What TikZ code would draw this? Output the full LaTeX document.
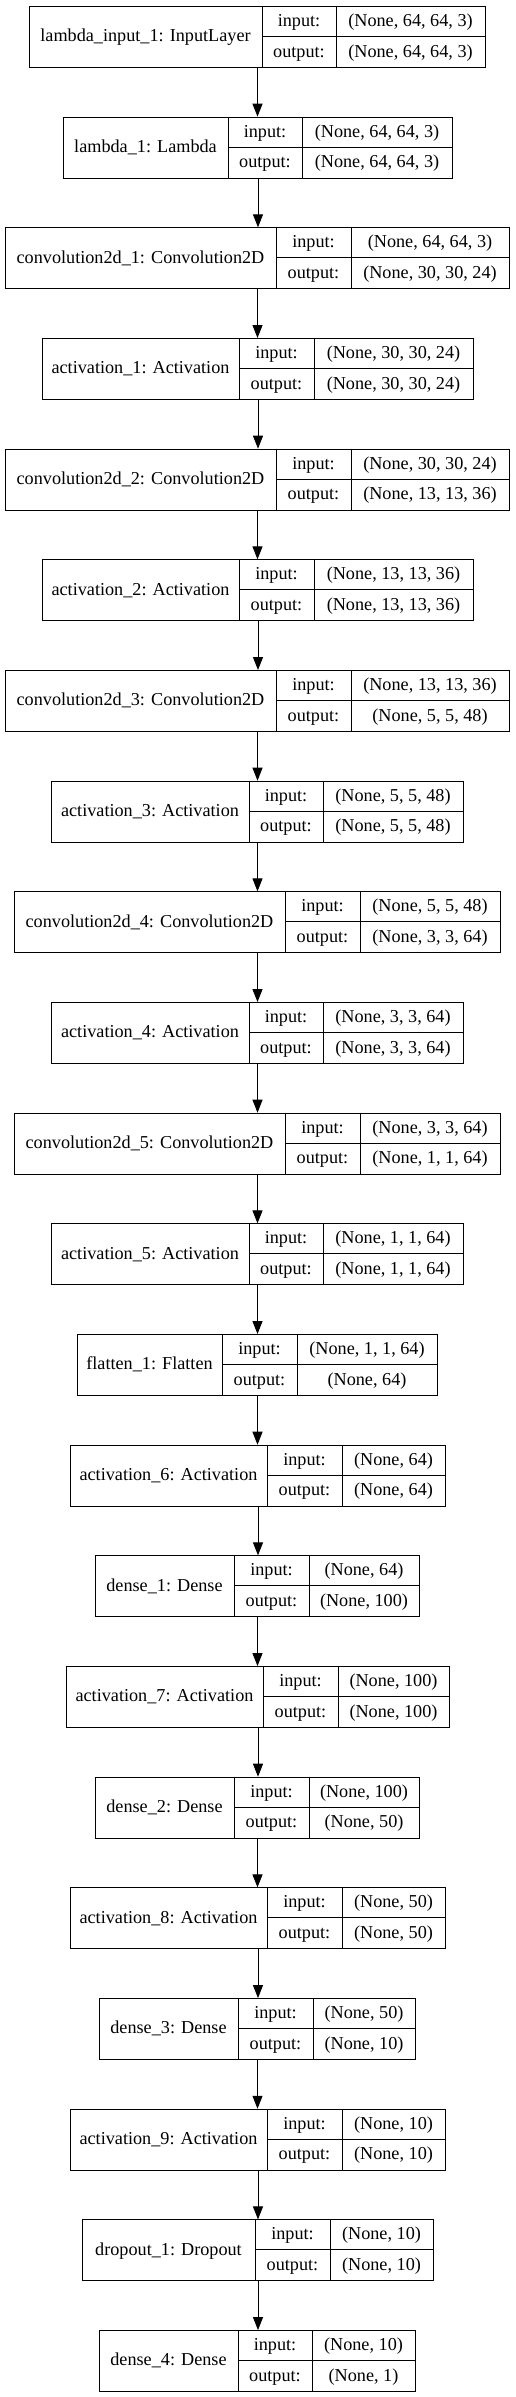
\documentclass[tikz,border=0pt]{standalone}
\usepackage{fontspec}
\setmainfont{Liberation Serif}
\usetikzlibrary{arrows.meta}
\tikzset{
  layerbox/.style={draw=black, line width=1pt, inner sep=0pt, minimum height=61pt, fill=white},
  cellline/.style={draw=black, line width=1pt},
  celltext/.style={inner sep=0pt, anchor=base, font=\fontsize{18.2}{20}\selectfont},
  flowarrow/.style={draw=black, line width=1pt, -{Triangle[length=13pt,width=10pt]}}
}
\newcommand{\klayer}[8]{%
  \pgfmathsetmacro\ktop{6+110.67*#1}%
  \pgfmathsetmacro\kbot{\ktop+61}%
  \pgfmathsetmacro\kmid{\ktop+30.5}%
  \pgfmathsetmacro\kw{#5-#2}%
  \node[layerbox, minimum width=\kw pt, anchor=north west] (L#1) at (#2,\ktop) {};
  \draw[cellline] (#3,\ktop) -- (#3,\kbot);
  \draw[cellline] (#4,\ktop) -- (#4,\kbot);
  \draw[cellline] (#3,\kmid) -- (#5,\kmid);
  \node[celltext] (L#1-name) at ({(#2+#3)/2},{\kmid+5.3}) {#6};
  \node[celltext] (L#1-inl) at ({(#3+#4)/2},{\ktop+15.25+5.3}) {input:};
  \node[celltext] (L#1-outl) at ({(#3+#4)/2},{\ktop+45.75+5.3}) {output:};
  \node[celltext] (L#1-in) at ({(#4+#5)/2},{\ktop+15.25+5.3}) {#7};
  \node[celltext] (L#1-out) at ({(#4+#5)/2},{\ktop+45.75+5.3}) {#8};
}
\begin{document}
\begin{tikzpicture}[x=1pt,y=-1pt]
\fill[white] (0,0) rectangle (515,2397);
\useasboundingbox (0,0) rectangle (515,2397);
\klayer{0}{29}{262}{336}{485}{lambda\_input\_1: InputLayer}{(None, 64, 64, 3)}{(None, 64, 64, 3)}
\klayer{1}{63}{228}{302}{452}{lambda\_1: Lambda}{(None, 64, 64, 3)}{(None, 64, 64, 3)}
\klayer{2}{5}{276}{351}{509}{convolution2d\_1: Convolution2D}{(None, 64, 64, 3)}{(None, 30, 30, 24)}
\klayer{3}{42}{239}{314}{473}{activation\_1: Activation}{(None, 30, 30, 24)}{(None, 30, 30, 24)}
\klayer{4}{5}{276}{351}{509}{convolution2d\_2: Convolution2D}{(None, 30, 30, 24)}{(None, 13, 13, 36)}
\klayer{5}{42}{239}{314}{473}{activation\_2: Activation}{(None, 13, 13, 36)}{(None, 13, 13, 36)}
\klayer{6}{5}{276}{351}{509}{convolution2d\_3: Convolution2D}{(None, 13, 13, 36)}{(None, 5, 5, 48)}
\klayer{7}{51}{249}{323}{463}{activation\_3: Activation}{(None, 5, 5, 48)}{(None, 5, 5, 48)}
\klayer{8}{14}{285}{360}{500}{convolution2d\_4: Convolution2D}{(None, 5, 5, 48)}{(None, 3, 3, 64)}
\klayer{9}{51}{249}{323}{463}{activation\_4: Activation}{(None, 3, 3, 64)}{(None, 3, 3, 64)}
\klayer{10}{14}{285}{360}{500}{convolution2d\_5: Convolution2D}{(None, 3, 3, 64)}{(None, 1, 1, 64)}
\klayer{11}{51}{249}{323}{463}{activation\_5: Activation}{(None, 1, 1, 64)}{(None, 1, 1, 64)}
\klayer{12}{77}{222}{297}{437}{flatten\_1: Flatten}{(None, 1, 1, 64)}{(None, 64)}
\klayer{13}{70}{267}{342}{445}{activation\_6: Activation}{(None, 64)}{(None, 64)}
\klayer{14}{95}{234}{309}{419}{dense\_1: Dense}{(None, 64)}{(None, 100)}
\klayer{15}{66}{263}{338}{449}{activation\_7: Activation}{(None, 100)}{(None, 100)}
\klayer{16}{95}{234}{309}{419}{dense\_2: Dense}{(None, 100)}{(None, 50)}
\klayer{17}{70}{267}{342}{445}{activation\_8: Activation}{(None, 50)}{(None, 50)}
\klayer{18}{99}{238}{313}{415}{dense\_3: Dense}{(None, 50)}{(None, 10)}
\klayer{19}{70}{267}{342}{445}{activation\_9: Activation}{(None, 10)}{(None, 10)}
\klayer{20}{82}{255}{330}{433}{dropout\_1: Dropout}{(None, 10)}{(None, 10)}
\klayer{21}{99}{238}{312}{415}{dense\_4: Dense}{(None, 10)}{(None, 1)}
\foreach \i [evaluate=\i as \j using int(\i+1)] in {0,...,20}{
  \draw[flowarrow] (L\i.south) -- (L\i.south |- L\j.north);
}
\end{tikzpicture}
\end{document}
